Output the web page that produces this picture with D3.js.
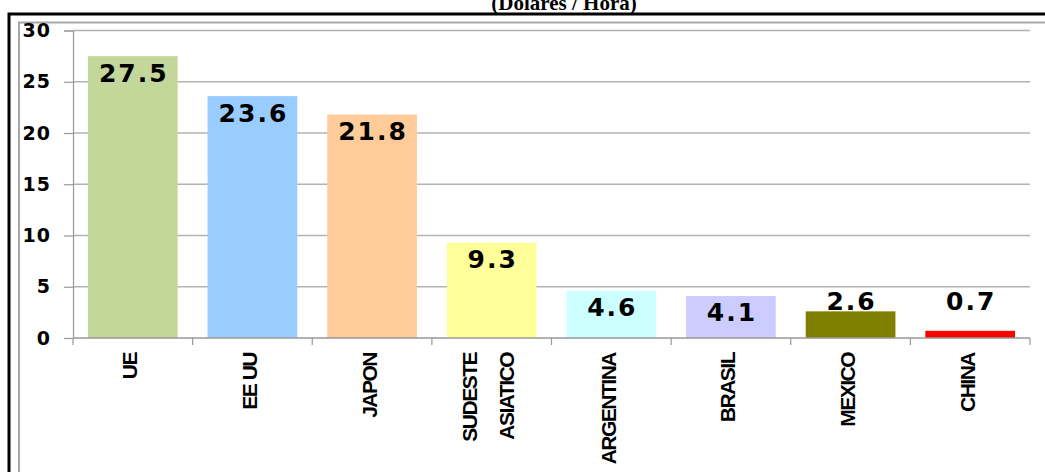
<!DOCTYPE html>
<html>
<head>
<meta charset="utf-8">
<script src="https://d3js.org/d3.v7.min.js"></script>
<style>
 body { margin: 0; background: #fff; }
</style>
</head>
<body>
<svg width="1045" height="472"></svg>
<script>
 // data
 var categories = ["UE", "EE UU", "JAPON", "SUDESTE ASIATICO", "ARGENTINA", "BRASIL", "MEXICO", "CHINA"];
 var values = [27.5, 23.6, 21.8, 9.3, 4.6, 4.1, 2.6, 0.7];
 var colors = ["#c4d79b", "#99ccff", "#ffcc99", "#ffff99", "#ccffff", "#ccccff", "#808000", "#ff0000"];
 var yTicks = [0, 5, 10, 15, 20, 25, 30];

 var svg = d3.select("svg");

 // title, partly cut off at the top like in the source
 svg.append("text")
    .attr("x", 564).attr("y", 10)
    .attr("text-anchor", "middle")
    .attr("font-family", "Liberation Serif")
    .attr("font-weight", "bold")
    .attr("font-size", "21px")
    .text("(Dolares / Hora)");

 // outer black frame and inner gray frame
 svg.append("path").attr("d", "M 9 472 L 9 14 L 1045 14")
    .attr("fill", "none").attr("stroke", "#000").attr("stroke-width", 3);
 svg.append("path").attr("d", "M 19 472 L 19 22.5 L 1045 22.5")
    .attr("fill", "none").attr("stroke", "#a6a6a6").attr("stroke-width", 2);

 var x = d3.scaleBand().domain(categories).range([73, 1030])
           .paddingInner(0.25).paddingOuter(0.125);
 var y = d3.scaleLinear().domain([0, 30]).range([338, 30.5]);

 // gridlines
 svg.append("g").selectAll("line").data(yTicks.slice(1)).enter().append("line")
    .attr("x1", 73).attr("x2", 1030)
    .attr("y1", d => y(d)).attr("y2", d => y(d))
    .attr("stroke", "#b3b3b3").attr("stroke-width", 1.5);

 // y axis
 var yAxis = svg.append("g").attr("transform", "translate(73,0)")
    .call(d3.axisLeft(y).tickValues(yTicks).tickSize(9).tickPadding(13));
 yAxis.select(".domain").attr("stroke", "#999").attr("stroke-width", 1.2);
 yAxis.selectAll(".tick line").attr("stroke", "#999").attr("stroke-width", 1.2);
 yAxis.selectAll(".tick text")
    .attr("font-family", "DejaVu Sans").attr("font-weight", "bold")
    .attr("font-size", "19px").attr("letter-spacing", "1px").attr("fill", "#000");

 // bars
 svg.append("g").selectAll("rect").data(values).enter().append("rect")
    .attr("x", (d, i) => x(categories[i]))
    .attr("width", x.bandwidth())
    .attr("y", d => y(d))
    .attr("height", d => y(0) - y(d))
    .attr("fill", (d, i) => colors[i]);

 // x axis
 var xAxis = svg.append("g").attr("transform", "translate(0,338)");
 xAxis.append("line").attr("x1", 73).attr("x2", 1030)
    .attr("stroke", "#999").attr("stroke-width", 1.5);
 xAxis.selectAll("line.tk").data(d3.range(categories.length + 1)).enter().append("line")
    .attr("class", "tk")
    .attr("x1", i => 73 + i * x.step()).attr("x2", i => 73 + i * x.step())
    .attr("y1", 0).attr("y2", 7)
    .attr("stroke", "#999").attr("stroke-width", 1.2);

 // value labels: inside the bar top, or above short bars
 svg.append("g").selectAll("text").data(values).enter().append("text")
    .attr("x", (d, i) => x(categories[i]) + x.bandwidth() / 2 + 1)
    .attr("y", d => (y(0) - y(d) >= 40 ? y(d) + 16 : y(3.7)) + 9.5)
    .attr("text-anchor", "middle")
    .attr("font-family", "DejaVu Sans").attr("font-weight", "bold")
    .attr("font-size", "25px").attr("letter-spacing", "2px")
    .text(d => d.toFixed(1));

 // category labels, rotated
 var catG = svg.append("g");
 categories.forEach(function (c, i) {
     var cx = x(c) + x.bandwidth() / 2;
     var lines = c === "SUDESTE ASIATICO" ? [["SUDESTE", -22], ["ASIATICO", 15]] : [[c, -3]];
     lines.forEach(function (l) {
         catG.append("text")
            .attr("transform", "translate(" + (cx + l[1] + 7.5) + ",353) rotate(-90)")
            .attr("text-anchor", "end")
            .attr("font-family", "Liberation Sans").attr("font-weight", "bold")
            .attr("font-size", "21px").attr("letter-spacing", "-1.5px")
            .text(l[0]);
     });
 });
</script>
</body>
</html>
